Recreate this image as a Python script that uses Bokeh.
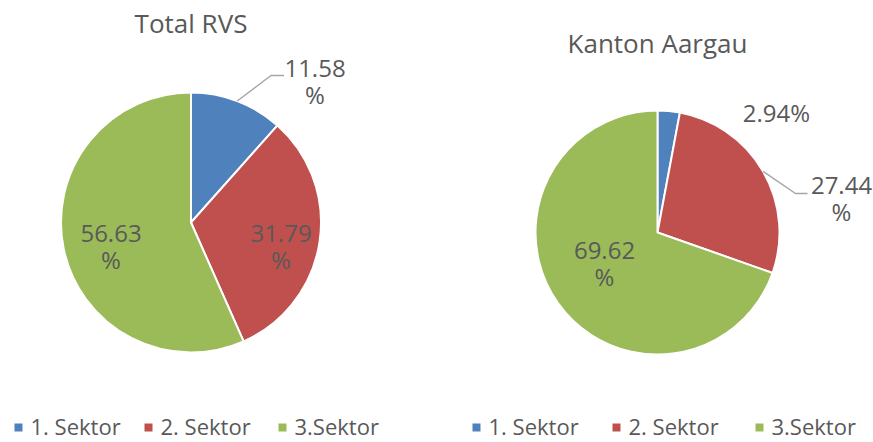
import math
from bokeh.plotting import figure
from bokeh.models import Range1d
from bokeh.core.properties import value
from bokeh.embed import file_html
from bokeh.resources import INLINE

# ---- data ----
categories = ["1. Sektor", "2. Sektor", "3.Sektor"]
titles = ["Total RVS", "Kanton Aargau"]
values_total = [11.58, 31.79, 56.63]
values_aargau = [2.94, 27.44, 69.62]

# ---- style / layout ----
colors = ["#4F81BD", "#C0504D", "#9BBB59"]
text_color = "#595959"
FONT = "Open Sans"
W, H = 873, 442
TSHIFT = 10  # text baseline correction (px)
# page coordinates: data x = page x, data y = 442 - page y
def Y(py):
    return H - py

def TY(py):
    return H - (py - TSHIFT)

pies = [
    dict(vals=values_total, cx=190.5, cy=222, r=130, title_y=32,
         # label offsets (dx, baseline dy from center), wrap flag
         labels=[(124, -144, True), (90, 21, True), (-80, 21, True)],
         leaders={0: ((80, -147), (93, -147))},
         legend_x=[18, 148, 282]),
    dict(vals=values_aargau, cx=657, cy=232, r=122, title_y=52,
         labels=[(119, -110, False), (184, -37, True), (-53, 28, True)],
         leaders={1: ((138, -39), (150, -39))},
         legend_x=[476, 616, 759]),
]

p = figure(width=W, height=H, output_backend="svg", toolbar_location=None,
           x_range=Range1d(0, W), y_range=Range1d(0, H),
           min_border=0)
p.axis.visible = False
p.grid.visible = False
p.outline_line_color = None
p.background_fill_color = "white"
p.border_fill_color = "white"

for k, pie in enumerate(pies):
    vals = pie["vals"]
    total = sum(vals)
    cx, cy, r = pie["cx"], Y(pie["cy"]), pie["r"]
    cum = 0.0
    starts, ends, mids = [], [], []
    for v in vals:
        a0 = math.pi / 2 - 2 * math.pi * cum / total
        cum += v
        a1 = math.pi / 2 - 2 * math.pi * cum / total
        starts.append(a0)
        ends.append(a1)
        mids.append((a0 + a1) / 2)
    p.wedge(x=[cx] * 3, y=[cy] * 3, radius=r, start_angle=starts, end_angle=ends,
            direction="clock", fill_color=colors, line_color="white", line_width=2)

    # title
    p.text(x=[cx], y=[TY(pie["title_y"])], text=[titles[k]], text_font=value(FONT),
           text_font_size="26px", text_color=text_color, text_align="center",
           text_baseline="alphabetic")

    # data labels
    for i, v in enumerate(vals):
        dx, dy, wrap = pie["labels"][i]
        lx, ly = pie["cx"] + dx, pie["cy"] + dy
        s = f"{v:.2f}%"
        lines = [s[:-1], "%"] if wrap else [s]
        for j, line in enumerate(lines):
            p.text(x=[lx], y=[TY(ly + 26 * j)], text=[line], text_font=value(FONT),
                   text_font_size="24px", text_color=text_color, text_align="center",
                   text_baseline="alphabetic")
        if i in pie["leaders"]:
            (ex, ey), (hx, hy) = pie["leaders"][i]
            sx = cx + r * math.cos(mids[i])
            sy = cy + r * math.sin(mids[i])
            p.line(x=[sx, pie["cx"] + ex, pie["cx"] + hx],
                   y=[sy, Y(pie["cy"] + ey), Y(pie["cy"] + hy)],
                   line_color="#A6A6A6", line_width=1.5)

    # legend
    for i, name in enumerate(categories):
        lx = pie["legend_x"][i]
        p.scatter(x=[lx], y=[Y(427)], marker="square", size=8,
                  fill_color=colors[i], line_color=None)
        p.text(x=[lx + 12], y=[TY(435)], text=[name], text_font=value(FONT),
               text_font_size="22px", text_color=text_color, text_align="left",
               text_baseline="alphabetic")

open("out.html", "w").write(file_html(p, INLINE))
